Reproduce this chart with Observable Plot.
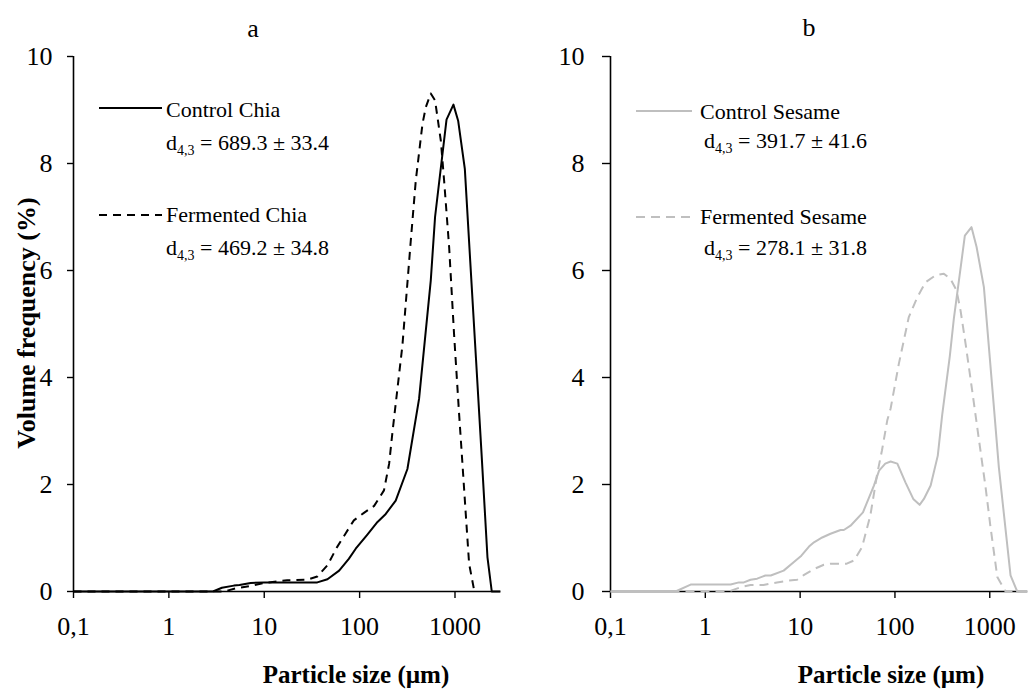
<!DOCTYPE html>
<html>
<head>
<meta charset="utf-8">
<script src="https://cdn.jsdelivr.net/npm/d3@7"></script>
<script src="https://cdn.jsdelivr.net/npm/@observablehq/plot@0.6"></script>
<style>
  html, body { margin: 0; padding: 0; background: #fff; }
  #wrap { position: relative; width: 1028px; height: 691px; overflow: hidden; background: #fff; }
  #wrap svg { position: absolute; top: 0; overflow: visible; }
</style>
</head>
<body>
<div id="wrap"></div>
<script>
// ---------- tick labels ----------
const xTicks = [0.1, 1, 10, 100, 1000];
const xTickLabels = ["0,1", "1", "10", "100", "1000"];
const yTicks = [0, 2, 4, 6, 8, 10];

// ---------- titles / legend text ----------
const panelTitles = ["a", "b"];
const xTitle = "Particle size (µm)";
const yTitle = "Volume frequency (%)";
const seriesNames = ["Control Chia", "Fermented Chia", "Control Sesame", "Fermented Sesame"];
const d43Values = ["689.3 ± 33.4", "469.2 ± 34.8", "391.7 ± 41.6", "278.1 ± 31.8"];

// ---------- series (particle size µm, volume frequency %) ----------
const chiaControlSize = [0.1, 2.9, 3.6, 4.8, 5.5, 7.2, 10, 20, 36, 46, 61, 77, 91, 120, 154, 188, 239, 317, 420, 557, 618, 815, 963, 1079, 1268, 1445, 1660, 1905, 2190, 2430, 3000];
const chiaControlFreq = [0, 0, 0.07, 0.11, 0.12, 0.16, 0.17, 0.17, 0.17, 0.23, 0.39, 0.61, 0.80, 1.06, 1.30, 1.45, 1.70, 2.29, 3.60, 5.81, 7.0, 8.82, 9.10, 8.80, 7.90, 6.17, 4.35, 2.53, 0.64, 0, 0];

const chiaFermSize = [0.1, 3.8, 5.0, 7.5, 10, 17.4, 28, 36, 46, 58, 71, 87, 111, 142, 180, 204, 221, 281, 344, 388, 456, 494, 557, 618, 710, 769, 868, 977, 1104, 1197, 1297, 1406, 1585, 1700];
const chiaFermFreq = [0, 0, 0.06, 0.11, 0.16, 0.21, 0.22, 0.28, 0.49, 0.83, 1.08, 1.33, 1.47, 1.60, 1.89, 2.39, 2.98, 4.6, 6.56, 7.68, 8.74, 9.05, 9.31, 9.18, 8.43, 7.68, 6.44, 4.82, 3.32, 2.39, 1.45, 0.52, 0.03, 0];

const sesameControlSize = [0.1, 0.485, 0.70, 1.85, 2.26, 2.55, 3.0, 3.52, 4.3, 4.9, 6.7, 8.6, 10.3, 12.4, 14.0, 17.1, 20.9, 26.7, 28.9, 34, 46, 60, 68, 79, 90, 106, 129, 156, 182, 202, 238, 283, 315, 379, 418, 480, 546, 642, 726, 867, 1105, 1247, 1656, 1950, 2500];
const sesameControlFreq = [0, 0, 0.13, 0.13, 0.17, 0.17, 0.22, 0.24, 0.30, 0.30, 0.39, 0.55, 0.67, 0.84, 0.92, 1.01, 1.08, 1.15, 1.15, 1.23, 1.48, 1.98, 2.26, 2.39, 2.43, 2.39, 2.04, 1.73, 1.62, 1.73, 1.98, 2.54, 3.3, 4.4, 5.1, 5.9, 6.65, 6.81, 6.44, 5.69, 3.45, 2.32, 0.30, 0, 0];

const sesameFermSize = [0.1, 1.77, 2.35, 3.0, 4.1, 5.7, 7.3, 9.3, 11, 14, 17.8, 20.9, 31, 37, 45, 55, 65, 73, 83, 90, 110, 140, 172, 210, 268, 328, 386, 446, 492, 556, 653, 767, 903, 1019, 1201, 1469, 2500];
const sesameFermFreq = [0, 0, 0.08, 0.12, 0.12, 0.17, 0.20, 0.22, 0.31, 0.42, 0.50, 0.52, 0.52, 0.58, 0.83, 1.42, 2.2, 2.64, 3.2, 3.42, 4.26, 5.13, 5.5, 5.78, 5.91, 5.94, 5.84, 5.63, 5.25, 4.63, 3.75, 2.85, 1.95, 1.2, 0.27, 0, 0];

const toRows = (s, f) => d3.zip(s, f).map(([size, freq]) => ({size, freq}));

const FONT = '"Liberation Serif", "Times New Roman", serif';
const BLACK = "#000000";
const GRAY = "#bfbfbf";

const panels = [
  {
    left: 0, marginLeft: 73, marginRight: 14, xMax: 3000, yTickSize: 6, yTickPad: 15,
    title: panelTitles[0], titleX: 253, titleY: 37, xTitleX: 356, showYTitle: true,
    series: [
      {rows: toRows(chiaControlSize, chiaControlFreq), color: BLACK, dash: null, name: seriesNames[0], d43: d43Values[0]},
      {rows: toRows(chiaFermSize, chiaFermFreq), color: BLACK, dash: "8,6", name: seriesNames[1], d43: d43Values[1]}
    ],
    legend: {lineX1: 99, lineX2: 162, textX: 166, dX: 166, rows: [
      {lineY: 108, textY: 117, dY: 150},
      {lineY: 215, textY: 222, dY: 255}
    ]}
  },
  {
    left: 514, marginLeft: 96, marginRight: 1, xMax: 2500, yTickSize: 8, yTickPad: 18,
    title: panelTitles[1], titleX: 295, titleY: 36, xTitleX: 377, showYTitle: false,
    series: [
      {rows: toRows(sesameControlSize, sesameControlFreq), color: GRAY, dash: null, name: seriesNames[2], d43: d43Values[2]},
      {rows: toRows(sesameFermSize, sesameFermFreq), color: GRAY, dash: "9,6", name: seriesNames[3], d43: d43Values[3]}
    ],
    legend: {lineX1: 122, lineX2: 178, textX: 186, dX: 190, rows: [
      {lineY: 111, textY: 119, dY: 148},
      {lineY: 217, textY: 224, dY: 255}
    ]}
  }
];

const wrap = document.getElementById("wrap");

for (const p of panels) {
  const svg = Plot.plot({
    width: 514,
    height: 691,
    marginLeft: p.marginLeft,
    marginRight: p.marginRight,
    marginTop: 56,
    marginBottom: 100,
    x: {type: "log", domain: [0.1, p.xMax]},
    y: {domain: [0, 10]},
    style: {fontFamily: FONT, fontSize: "26px", color: BLACK, background: "transparent", overflow: "visible"},
    marks: [
      Plot.axisX({ticks: xTicks, tickFormat: d => { const i = xTicks.indexOf(d); return i >= 0 ? xTickLabels[i] : String(d); }, tickSize: 7, tickPadding: 18, label: null, strokeWidth: 1.4}),
      Plot.axisY({ticks: yTicks, tickSize: p.yTickSize, tickPadding: p.yTickPad, label: null, strokeWidth: 1.4}),
      Plot.ruleY([0], {stroke: BLACK, strokeWidth: 1.6}),
      Plot.ruleX([0.1], {stroke: BLACK, strokeWidth: 1.6}),
      ...p.series.map(s => Plot.line(s.rows, {x: "size", y: "freq", stroke: s.color, strokeWidth: 2, strokeDasharray: s.dash, strokeLinejoin: "round", strokeLinecap: "butt"}))
    ]
  });
  svg.style.left = p.left + "px";
  wrap.appendChild(svg);

  const g = d3.select(svg).append("g").attr("font-family", FONT).attr("fill", BLACK).attr("text-anchor", "start");
  // panel title
  g.append("text").attr("x", p.titleX).attr("y", p.titleY).attr("text-anchor", "middle").attr("font-size", 26).text(p.title);
  // x axis title
  g.append("text").attr("x", p.xTitleX).attr("y", 683).attr("text-anchor", "middle").attr("font-size", 25).attr("font-weight", "bold").text(xTitle);
  // y axis title
  if (p.showYTitle) {
    g.append("text").attr("transform", "translate(35,323) rotate(-90)").attr("text-anchor", "middle").attr("font-size", 26).attr("font-weight", "bold").text(yTitle);
  }
  // legend
  p.series.forEach((s, i) => {
    const r = p.legend.rows[i];
    g.append("line").attr("x1", p.legend.lineX1).attr("x2", p.legend.lineX2).attr("y1", r.lineY).attr("y2", r.lineY)
      .attr("stroke", s.color).attr("stroke-width", 2).attr("stroke-dasharray", s.dash);
    g.append("text").attr("x", p.legend.textX).attr("y", r.textY).attr("text-anchor", "start").attr("font-size", 22).text(s.name);
    const t = g.append("text").attr("x", p.legend.dX).attr("y", r.dY).attr("text-anchor", "start").attr("font-size", 22);
    t.append("tspan").text("d");
    t.append("tspan").attr("font-size", 14).attr("dy", 5).text("4,3");
    t.append("tspan").attr("dy", -5).text(" = " + s.d43);
  });
}
</script>
</body>
</html>
